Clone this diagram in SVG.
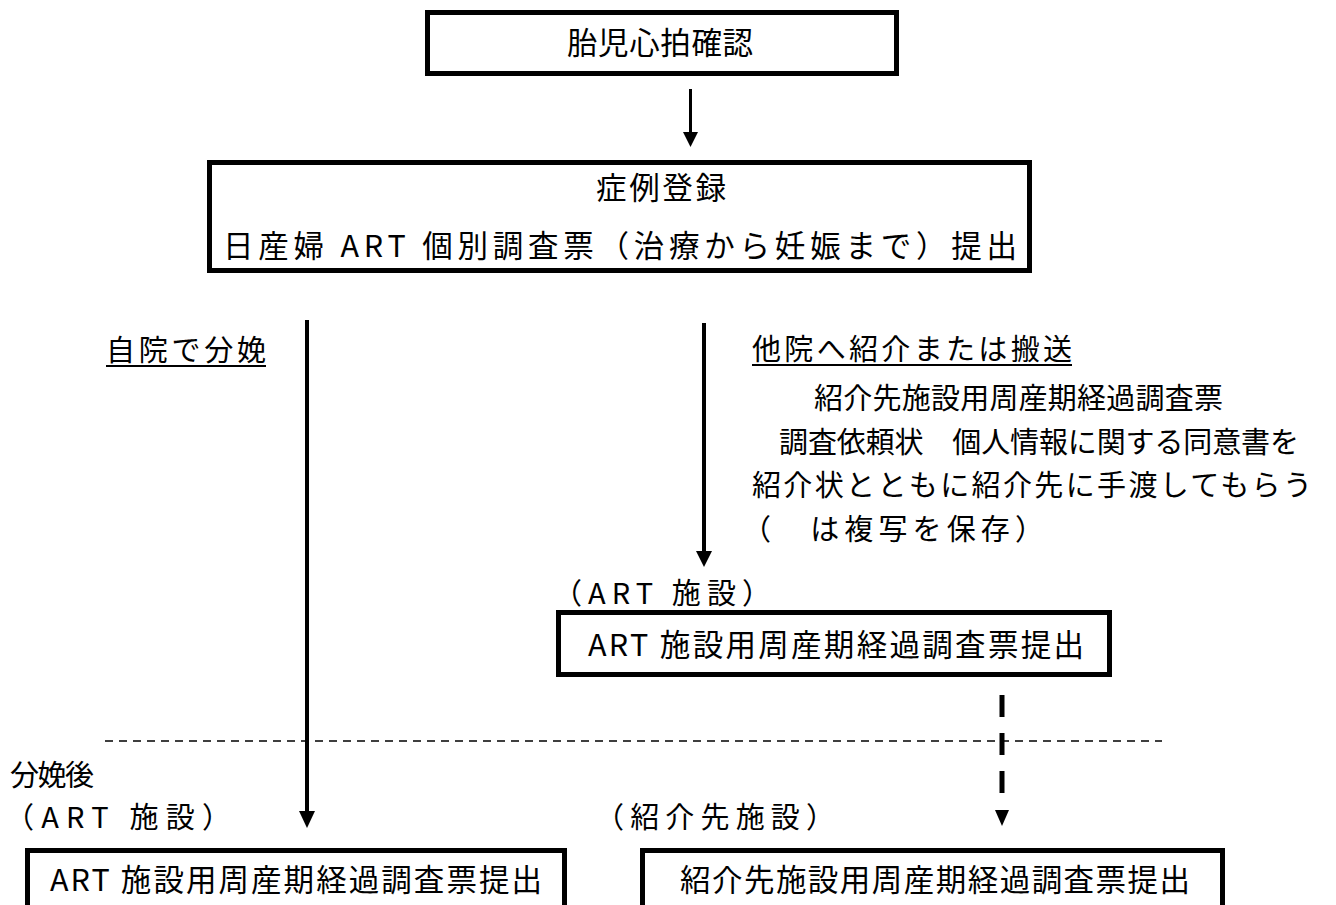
<svg xmlns="http://www.w3.org/2000/svg" width="1336" height="905" viewBox="0 0 1336 905">
<style>
.box{fill:#fff;stroke:#000;stroke-width:5}
text{font-family:"Noto Sans CJK JP","Noto Sans",sans-serif;font-size:29px;fill:#000}
.big{font-size:30.5px}
.ln{stroke:#000;fill:none}
.hd{fill:#000}
</style>
<rect width="1336" height="905" fill="#fff"/>
<g id="connectors">
  <line class="ln" x1="105" y1="741" x2="1162" y2="741" stroke-width="1.6" stroke-dasharray="8 6" stroke="#333"/>
  <line class="ln" x1="690.5" y1="89" x2="690.5" y2="133" stroke-width="3"/>
  <polygon class="hd" points="683,132 698,132 690.5,147"/>
  <line class="ln" x1="307" y1="320" x2="307" y2="812" stroke-width="4"/>
  <polygon class="hd" points="299,811 315,811 307,828"/>
  <line class="ln" x1="704" y1="323" x2="704" y2="552" stroke-width="4"/>
  <polygon class="hd" points="696,551 712,551 704,567"/>
  <line class="ln" x1="1002" y1="695" x2="1002" y2="800" stroke-width="5" stroke-dasharray="22 16"/>
  <polygon class="hd" points="995,810 1009,810 1002,826"/>
</g>
<g id="node-heartbeat">
  <rect class="box" x="427.5" y="12.5" width="469" height="61"/>
  <text class="big" x="567" y="54" textLength="186" lengthAdjust="spacing">胎児心拍確認</text>
</g>
<g id="node-register">
  <rect class="box" x="209.5" y="162.5" width="820" height="108"/>
  <text class="big" x="596" y="199" textLength="130" lengthAdjust="spacing">症例登録</text>
  <text class="big" x="223" y="257" textLength="794" lengthAdjust="spacing">日産婦 ART 個別調査票（治療から妊娠まで）提出</text>
</g>
<g id="label-self">
  <text x="106" y="361" textLength="160" lengthAdjust="spacing">自院で分娩</text>
  <line class="ln" x1="106" y1="366" x2="266" y2="366" stroke-width="2"/>
</g>
<g id="label-refer">
  <text x="752" y="360" textLength="320" lengthAdjust="spacing">他院へ紹介または搬送</text>
  <line class="ln" x1="752" y1="365" x2="1072" y2="365" stroke-width="2"/>
  <text x="814" y="409" textLength="409" lengthAdjust="spacing">紹介先施設用周産期経過調査票</text>
  <text x="779" y="453" textLength="520" lengthAdjust="spacing">調査依頼状　個人情報に関する同意書を</text>
  <text x="752" y="496" textLength="560" lengthAdjust="spacing">紹介状とともに紹介先に手渡してもらう</text>
  <text x="742" y="540" textLength="302" lengthAdjust="spacing">（　は複写を保存）</text>
</g>
<g id="node-art-mid">
  <text x="553" y="604" textLength="218" lengthAdjust="spacing">（ART 施設）</text>
  <rect class="box" x="558.5" y="612.5" width="551" height="62"/>
  <text class="big" x="588" y="656" textLength="496" lengthAdjust="spacing">ART 施設用周産期経過調査票提出</text>
</g>
<g id="label-after">
  <text x="10" y="786" textLength="84" lengthAdjust="spacing">分娩後</text>
</g>
<g id="node-art-bottom">
  <text x="5" y="828" textLength="226" lengthAdjust="spacing">（ART 施設）</text>
  <rect class="box" x="27.5" y="850.5" width="537" height="90"/>
  <text class="big" x="50" y="891" textLength="492" lengthAdjust="spacing">ART 施設用周産期経過調査票提出</text>
</g>
<g id="node-referral-bottom">
  <text x="595" y="828" textLength="240" lengthAdjust="spacing">（紹介先施設）</text>
  <rect class="box" x="642.5" y="850.5" width="580" height="90"/>
  <text class="big" x="680" y="891" textLength="510" lengthAdjust="spacing">紹介先施設用周産期経過調査票提出</text>
</g>
</svg>
